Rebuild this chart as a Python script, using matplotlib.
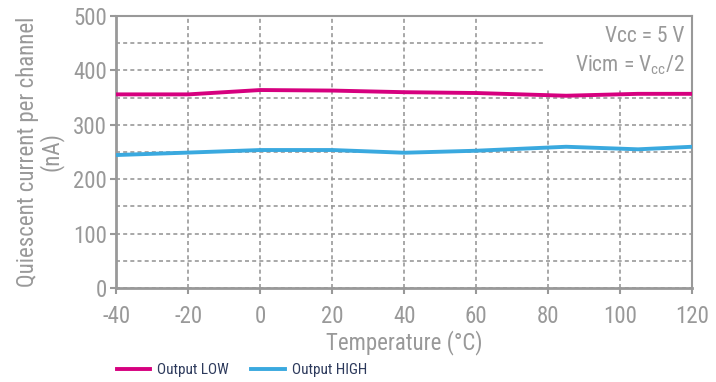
import matplotlib.pyplot as plt
import numpy as np
from matplotlib.ticker import MultipleLocator
from matplotlib.patches import Rectangle

# data
temp = [-40, -20, 0, 20, 40, 60, 85, 105, 120]
i_low = [356, 356, 364, 363, 360, 358.5, 353.5, 357, 357]
i_high = [244.5, 249, 253.7, 253.7, 248.7, 252.4, 259.7, 255, 259.7]

xticks = [-40, -20, 0, 20, 40, 60, 80, 100, 120]
yticks = [0, 100, 200, 300, 400, 500]

gray = "#999999"
pink = "#d6007f"
blue = "#3aa9df"
navy = "#2d3a5c"

plt.rcParams['font.family'] = ['Roboto Condensed', 'DejaVu Sans']
plt.rcParams['axes.unicode_minus'] = False

fig = plt.figure(figsize=(7.16, 3.82), dpi=100)
ax = fig.add_axes([0.1627, 0.246, 0.8038, 0.712])

ax.set_axisbelow(True)
ax.set_xlim(-40, 120)
ax.set_ylim(0, 500)
ax.set_xticks(xticks)
ax.set_yticks(yticks)
ax.yaxis.set_minor_locator(MultipleLocator(50))
ax.grid(True, which='both', color=gray, ls=(0, (2.4, 1.9)), lw=1.2)
ax.tick_params(which='minor', length=0)
ax.tick_params(which='major', length=4, width=1.5, color=gray,
               labelcolor=gray, labelsize=16.5)
ax.tick_params(axis='x', pad=8)
ax.tick_params(axis='y', pad=3)

for s in ['left', 'bottom']:
    ax.spines[s].set_color(gray)
    ax.spines[s].set_linewidth(2)
for s in ['top', 'right']:
    ax.spines[s].set_color(gray)
    ax.spines[s].set_linewidth(1.5)

# white box behind the conditions text
ax.add_patch(Rectangle((79.2, 368), 40.8, 132, facecolor='white',
                       edgecolor='none', zorder=1))

l1, = ax.plot(temp, i_low, color=pink, lw=2.8, zorder=3)
l2, = ax.plot(temp, i_high, color=blue, lw=2.8, zorder=3)

ax.text(118, 462, "Vcc = 5 V", ha='right', va='center', color=gray, fontsize=15.5)
ax.text(118, 410, r"Vicm = V$_{\mathregular{cc}}$/2", ha='right', va='center',
        color=gray, fontsize=15.5)

ax.set_xlabel("Temperature (°C)", color=gray, fontsize=16.5, labelpad=2)
ax.set_ylabel("Quiescent current per channel\n(nA)", color=gray, fontsize=16.5,
              linespacing=0.98, labelpad=7)

fig.legend([l1, l2], ["Output LOW", "Output HIGH"], loc='center left',
           bbox_to_anchor=(0.163, 0.031), ncol=2, frameon=False,
           fontsize=11, labelcolor=navy, handlelength=2.2,
           handletextpad=0.45, columnspacing=1.45, borderaxespad=0, borderpad=0)

plt.savefig("out.png", dpi=100)
